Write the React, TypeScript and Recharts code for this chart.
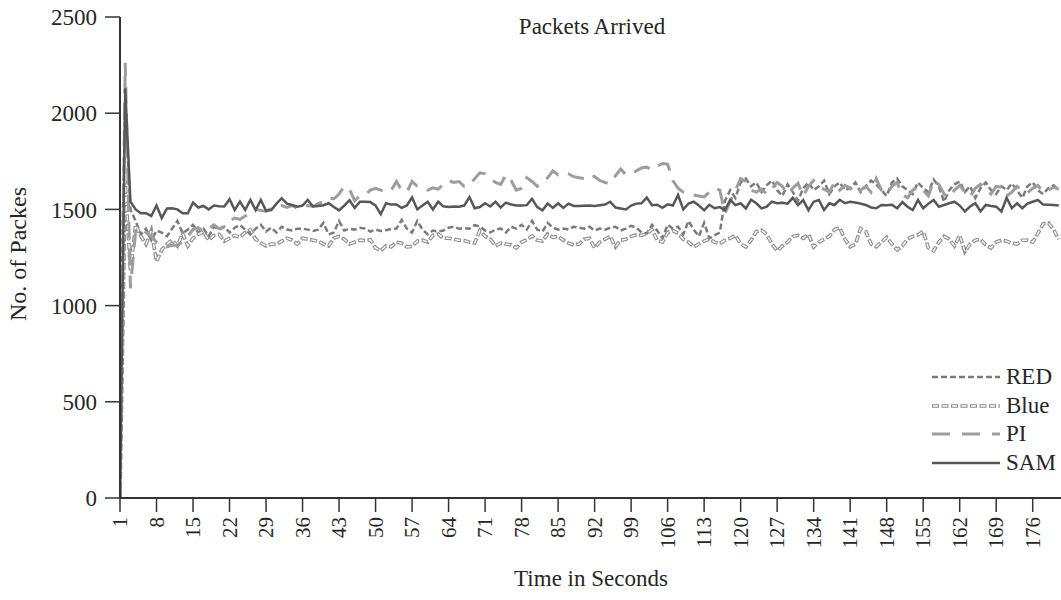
import React from 'react';
import { LineChart, Line, XAxis, YAxis } from 'recharts';

const FONT = '"Liberation Serif", "Times New Roman", Times, serif';

// Time in seconds (categories 1..181)
const seconds: number[] = Array.from({ length: 181 }, (_, i) => i + 1);

const xTicks = [1, 8, 15, 22, 29, 36, 43, 50, 57, 64, 71, 78, 85, 92, 99, 106, 113, 120, 127, 134, 141, 148, 155, 162, 169, 176];
const yTicks = [0, 500, 1000, 1500, 2000, 2500];

const redValues = [
  760, 2050, 1500, 1440, 1370, 1400, 1340, 1390, 1380, 1360,
  1400, 1440, 1375, 1395, 1420, 1380, 1400, 1360, 1410, 1395,
  1410, 1380, 1405, 1420, 1395, 1370, 1400, 1420, 1385, 1405,
  1380, 1410, 1395, 1390, 1400, 1400, 1395, 1388, 1395, 1430,
  1370, 1380, 1440, 1390, 1400, 1395, 1405, 1400, 1385, 1395,
  1388, 1392, 1398, 1400, 1445, 1400, 1380, 1440, 1395, 1370,
  1390, 1385, 1390, 1405, 1410, 1400, 1402, 1400, 1418, 1412,
  1390, 1380, 1395, 1400, 1380, 1410, 1400, 1420, 1395, 1440,
  1395, 1385, 1430, 1405, 1395, 1400, 1395, 1410, 1405, 1400,
  1410, 1390, 1400, 1395, 1405, 1410, 1390, 1400, 1415, 1405,
  1380, 1375, 1420, 1390, 1350, 1420, 1400, 1410, 1370, 1440,
  1395, 1360, 1430, 1350, 1365, 1380, 1545, 1600, 1560, 1640,
  1660, 1620, 1640, 1590, 1625, 1650, 1600, 1570, 1630, 1590,
  1545, 1610, 1640, 1600, 1620, 1650, 1580, 1620, 1640, 1600,
  1610, 1640, 1590, 1620, 1650, 1630, 1600, 1570, 1640, 1660,
  1620, 1600, 1580, 1640, 1610, 1590, 1655, 1620, 1540, 1600,
  1630, 1645, 1590, 1620, 1560, 1610, 1640, 1600, 1580, 1620,
  1600, 1635, 1600, 1560, 1620, 1640, 1600, 1580, 1610, 1625,
  1600,
];

const blueValues = [
  0, 1650, 1180, 1420, 1360, 1320, 1390, 1230, 1290, 1320,
  1340, 1310, 1375, 1310, 1350, 1370, 1385, 1340, 1365, 1370,
  1335, 1350, 1365, 1355, 1380, 1395, 1345, 1325, 1310, 1320,
  1318, 1335, 1350, 1340, 1320, 1350, 1345, 1340, 1335, 1320,
  1310, 1350, 1360, 1345, 1320, 1330, 1340, 1338, 1342, 1300,
  1285, 1310, 1306, 1330, 1325, 1305, 1308, 1335, 1340, 1330,
  1365, 1372, 1350, 1350, 1345, 1340, 1338, 1330, 1325, 1390,
  1360, 1345, 1310, 1325, 1320, 1315, 1300, 1330, 1342, 1362,
  1340, 1335, 1372, 1355, 1360, 1340, 1325, 1315, 1320, 1345,
  1350, 1300, 1330, 1345, 1360, 1305, 1340, 1345, 1360, 1368,
  1365, 1375, 1395, 1340, 1330, 1380, 1390, 1375, 1345, 1330,
  1305, 1320, 1335, 1345, 1330, 1322, 1340, 1350, 1365, 1320,
  1305, 1340, 1385, 1392, 1370, 1320, 1285, 1310, 1330, 1360,
  1365, 1350, 1370, 1305, 1330, 1345, 1360, 1395, 1405, 1345,
  1305, 1320, 1400, 1385, 1320, 1306, 1330, 1355, 1320, 1290,
  1310, 1345, 1360, 1368, 1385, 1300, 1285, 1330, 1360, 1345,
  1310, 1365, 1280, 1320, 1340, 1345, 1315, 1300, 1330, 1340,
  1335, 1325, 1320, 1340, 1340, 1330, 1375, 1425, 1430, 1395,
  1345,
];

const piValues = [
  0, 2262, 1090, 1390, 1400, 1380, 1360, 1330, 1310, 1305,
  1315, 1312, 1330, 1360, 1395, 1405, 1385, 1400, 1420, 1400,
  1410, 1440, 1455, 1448, 1465, 1485, 1500, 1495, 1490, 1505,
  1515, 1520, 1510, 1520, 1505, 1510, 1520, 1515, 1530, 1540,
  1560, 1555, 1580, 1620, 1605, 1545, 1570, 1575, 1600, 1610,
  1600, 1590, 1600, 1645, 1600, 1590, 1645, 1620, 1610, 1600,
  1612, 1605, 1630, 1650, 1640, 1645, 1620, 1625, 1660, 1690,
  1685, 1660, 1640, 1630, 1680, 1650, 1600, 1610, 1665, 1645,
  1620, 1640, 1665, 1700, 1680, 1690, 1685, 1670, 1665, 1660,
  1680, 1670, 1650, 1640, 1635, 1675, 1710, 1680, 1685, 1700,
  1715, 1720, 1705, 1725, 1738, 1735, 1650, 1610, 1590, 1585,
  1575, 1570, 1565, 1590, 1610, 1600, 1480, 1540, 1600, 1660,
  1645, 1600, 1590, 1605, 1580, 1610, 1640, 1620, 1580, 1610,
  1635, 1570, 1620, 1650, 1620, 1605, 1590, 1640, 1600, 1625,
  1610, 1580, 1600, 1620, 1590, 1660, 1600, 1580, 1620, 1640,
  1575, 1560, 1600, 1620, 1600, 1570, 1650, 1630, 1580, 1560,
  1600, 1625, 1590, 1565, 1610, 1630, 1600, 1580, 1620, 1615,
  1570, 1590, 1620, 1600, 1585, 1610, 1625, 1590, 1600, 1615,
  1605,
];

const samValues = [
  0, 2130, 1540, 1500, 1480, 1480, 1466, 1520, 1455, 1505,
  1506, 1500, 1480, 1480, 1535, 1510, 1518, 1500, 1520, 1516,
  1515, 1553, 1497, 1540, 1497, 1549, 1497, 1549, 1493, 1497,
  1530, 1558, 1530, 1523, 1514, 1520, 1549, 1515, 1518, 1522,
  1532, 1512, 1495, 1520, 1548, 1508, 1540, 1540, 1538, 1520,
  1475, 1532, 1525, 1526, 1508, 1520, 1562, 1500, 1520, 1540,
  1500, 1540, 1516, 1512, 1515, 1514, 1520, 1564, 1506, 1512,
  1532, 1515, 1540, 1510, 1535, 1525, 1520, 1520, 1522, 1555,
  1512, 1495, 1530, 1508, 1532, 1508, 1530, 1518, 1518, 1519,
  1520, 1518, 1522, 1525, 1540, 1510, 1505, 1500, 1520, 1530,
  1532, 1562, 1522, 1524, 1508, 1526, 1520, 1575, 1500, 1530,
  1540, 1520, 1495, 1524, 1506, 1512, 1497, 1550, 1522, 1532,
  1505, 1550, 1532, 1505, 1514, 1540, 1532, 1534, 1530, 1560,
  1522, 1548, 1496, 1540, 1549, 1497, 1532, 1523, 1550, 1532,
  1540, 1536, 1530, 1523, 1510, 1506, 1523, 1522, 1524, 1506,
  1538, 1514, 1497, 1549, 1506, 1530, 1549, 1514, 1523, 1532,
  1540, 1520, 1489, 1515, 1532, 1490, 1523, 1518, 1514, 1489,
  1560, 1506, 1532, 1506, 1530, 1540, 1549, 1525, 1524, 1523,
  1520,
];

const seriesNames = ['RED', 'Blue', 'PI', 'SAM'];

const data = seconds.map((t, i) => ({
  t,
  red: redValues[i],
  blue: blueValues[i],
  blueInner: blueValues[i],
  pi: piValues[i],
  sam: samValues[i],
}));

const C_RED = '#7b7b7b';
const C_BLUE = '#8c8c8c';
const C_PI = '#9d9d9d';
const C_SAM = '#575757';
const AXIS = '#333333';
const TEXT = '#262626';

const XTick = (props: any) => {
  const { x, y, payload } = props;
  const yy = y + 3;
  return (
    <text
      x={x}
      y={yy}
      transform={`rotate(-90 ${x} ${yy})`}
      textAnchor="end"
      dominantBaseline="central"
      fontSize={21}
      fontFamily={FONT}
      fill={TEXT}
    >
      {payload.value}
    </text>
  );
};

const LegendSample = ({ name }: { name: string }) => {
  const w = 68;
  let line: React.ReactNode = null;
  if (name === 'RED') {
    line = <line x1={0} y1={6} x2={w} y2={6} stroke={C_RED} strokeWidth={2.5} strokeDasharray="6 3" />;
  } else if (name === 'Blue') {
    line = (
      <g>
        <line x1={0} y1={6} x2={w} y2={6} stroke={C_BLUE} strokeWidth={3.6} strokeDasharray="7 2.5" />
        <line x1={0} y1={6} x2={w} y2={6} stroke="#ffffff" strokeWidth={1.4} strokeDasharray="5 4.5" strokeDashoffset={-1} />
      </g>
    );
  } else if (name === 'PI') {
    line = <line x1={0} y1={6} x2={w} y2={6} stroke={C_PI} strokeWidth={3} strokeDasharray="18 12" />;
  } else {
    line = <line x1={0} y1={6} x2={w} y2={6} stroke={C_SAM} strokeWidth={2.5} />;
  }
  return (
    <svg width={w} height={12} style={{ display: 'block' }}>
      {line}
    </svg>
  );
};

export default function App() {
  return (
    <div
      style={{
        position: 'absolute',
        left: 0,
        top: 0,
        width: 1061,
        height: 600,
        overflow: 'hidden',
        background: '#ffffff',
        fontFamily: FONT,
      }}
    >
      <LineChart
        width={1064}
        height={600}
        data={data}
        margin={{ top: 17, right: 0, bottom: 0, left: 0 }}
      >
        <XAxis
          dataKey="t"
          type="number"
          domain={[1, 182]}
          ticks={xTicks}
          interval={0}
          height={102}
          tickSize={14}
          tickMargin={2}
          tick={<XTick />}
          axisLine={{ stroke: AXIS, strokeWidth: 2 }}
          tickLine={{ stroke: AXIS, strokeWidth: 1.5 }}
          allowDataOverflow
        />
        <YAxis
          type="number"
          domain={[0, 2500]}
          ticks={yTicks}
          interval={0}
          width={120}
          tickSize={15}
          tickMargin={8}
          tick={{ fill: TEXT, fontSize: 23, fontFamily: FONT }}
          axisLine={{ stroke: AXIS, strokeWidth: 2 }}
          tickLine={{ stroke: AXIS, strokeWidth: 1.5 }}
        />
        <Line dataKey="red" name="RED" type="linear" stroke={C_RED} strokeWidth={2.5} strokeDasharray="6 3" dot={false} activeDot={false} isAnimationActive={false} />
        <Line dataKey="blue" name="Blue" type="linear" stroke={C_BLUE} strokeWidth={3.6} strokeDasharray="7 2.5" dot={false} activeDot={false} isAnimationActive={false} />
        <Line dataKey="blueInner" name="BlueInner" type="linear" stroke="#ffffff" strokeWidth={1.4} strokeDasharray="5 4.5" strokeDashoffset={-1} dot={false} activeDot={false} isAnimationActive={false} />
        <Line dataKey="pi" name="PI" type="linear" stroke={C_PI} strokeWidth={3} strokeDasharray="17 10" dot={false} activeDot={false} isAnimationActive={false} />
        <Line dataKey="sam" name="SAM" type="linear" stroke={C_SAM} strokeWidth={2.5} dot={false} activeDot={false} isAnimationActive={false} />
      </LineChart>
      <div
        style={{
          position: 'absolute',
          left: 932,
          top: 363,
          fontSize: 23,
          color: TEXT,
        }}
      >
        {seriesNames.map((n) => (
          <div key={n} style={{ display: 'flex', alignItems: 'center', height: 28.5 }}>
            <LegendSample name={n} />
            <span style={{ marginLeft: 6, lineHeight: '28px', whiteSpace: 'nowrap' }}>{n}</span>
          </div>
        ))}
      </div>
      <div
        style={{
          position: 'absolute',
          left: 592,
          top: 27,
          transform: 'translate(-50%, -50%)',
          fontSize: 23,
          color: TEXT,
          whiteSpace: 'nowrap',
        }}
      >
        Packets Arrived
      </div>
      <div
        style={{
          position: 'absolute',
          left: 591,
          top: 579,
          transform: 'translate(-50%, -50%)',
          fontSize: 23,
          color: TEXT,
          whiteSpace: 'nowrap',
        }}
      >
        Time in Seconds
      </div>
      <div
        style={{
          position: 'absolute',
          left: 18,
          top: 254,
          transform: 'translate(-50%, -50%) rotate(-90deg)',
          fontSize: 24,
          color: TEXT,
          whiteSpace: 'nowrap',
        }}
      >
        No. of Packes
      </div>
    </div>
  );
}
